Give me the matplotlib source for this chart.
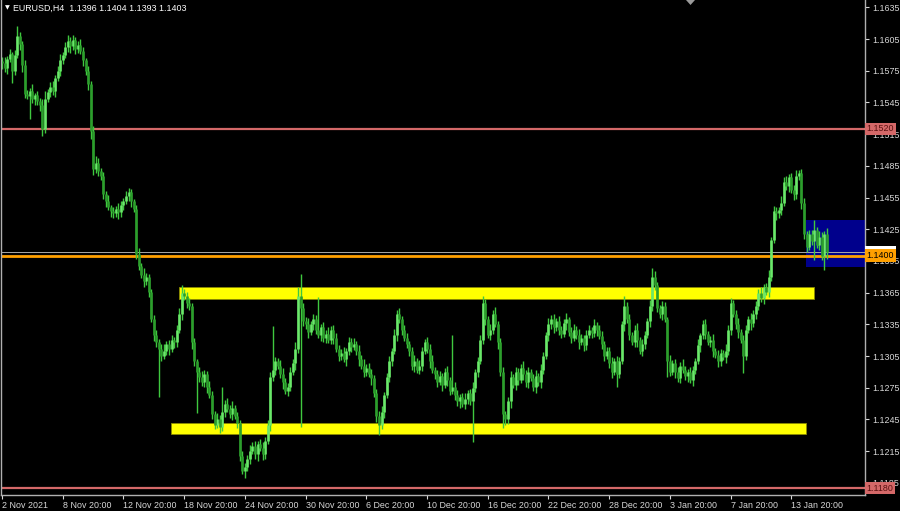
import numpy as np
import matplotlib
matplotlib.use("Agg")
import matplotlib.pyplot as plt
from matplotlib.patches import Rectangle, Polygon
from matplotlib.transforms import blended_transform_factory

plt.rcParams["font.family"] = ["Liberation Sans", "DejaVu Sans"]

# EURUSD H4 closes, in pips above 1.1000 (1582 -> 1.1582)
closes = [
    1582, 1578, 1586, 1591, 1575, 1590, 1608, 1600, 1580, 1553, 1551, 1556, 1548, 1552, 1546, 1543, 1520, 1548, 1555, 1560,
    1556, 1568, 1575, 1585, 1590, 1597, 1603, 1598, 1604, 1596, 1599, 1594, 1585, 1575, 1562, 1518, 1482, 1488, 1480, 1475,
    1458, 1452, 1446, 1442, 1440, 1444, 1441, 1448, 1452, 1456, 1460, 1452, 1444, 1402, 1390, 1382, 1376, 1380, 1366, 1340,
    1325, 1318, 1312, 1305, 1310, 1316, 1312, 1320, 1318, 1330, 1345, 1365, 1362, 1355, 1352, 1318, 1300, 1290, 1285, 1280,
    1288, 1276, 1268, 1250, 1240, 1245, 1238, 1252, 1260, 1255, 1250, 1256, 1248, 1242, 1210, 1196, 1200, 1208, 1215, 1220,
    1212, 1222, 1218, 1212, 1225, 1240, 1285, 1292, 1300, 1296, 1288, 1280, 1272, 1276, 1290, 1298, 1312, 1362, 1350, 1338,
    1335, 1328, 1335, 1340, 1330, 1325, 1332, 1322, 1326, 1320, 1330, 1322, 1312, 1305, 1308, 1302, 1310, 1318, 1314, 1316,
    1310, 1302, 1296, 1290, 1294, 1288, 1284, 1270, 1248, 1240, 1252, 1268, 1285, 1300, 1310, 1325, 1345, 1340, 1330, 1322,
    1316, 1310, 1296, 1300, 1292, 1296, 1310, 1318, 1312, 1300, 1292, 1288, 1280, 1286, 1278, 1290, 1282, 1272, 1276, 1268,
    1262, 1266, 1260, 1264, 1270, 1262, 1275, 1290, 1300, 1320, 1355, 1340, 1325, 1330, 1345, 1335, 1318, 1290, 1250, 1245,
    1262, 1285, 1278, 1290, 1282, 1294, 1288, 1280, 1290, 1284, 1276, 1286, 1280, 1292, 1305, 1325, 1335, 1340, 1332, 1338,
    1330, 1326, 1336, 1340, 1328, 1322, 1330, 1325, 1318, 1322, 1315, 1325, 1330, 1327, 1334, 1330, 1324, 1316, 1305, 1310,
    1298, 1290, 1300, 1288, 1300, 1335, 1352, 1340, 1325, 1318, 1330, 1320, 1310, 1316, 1325, 1338, 1352, 1380, 1372, 1350,
    1345, 1352, 1340, 1300, 1290, 1298, 1290, 1284, 1296, 1292, 1286, 1290, 1282, 1292, 1300, 1315, 1325, 1335, 1326, 1318,
    1320, 1310, 1306, 1300, 1308, 1304, 1310, 1330, 1355, 1345, 1335, 1328, 1320, 1305, 1330, 1340, 1336, 1345, 1352, 1365,
    1360, 1370, 1366, 1380, 1415, 1442, 1440, 1443, 1450, 1470, 1466, 1474, 1462, 1458, 1475, 1478, 1450, 1420, 1408, 1420,
    1414, 1424, 1410, 1418, 1400, 1420, 1403,
]
first_open = 1584

# wick lengths in pips above the body and below the body
wick_up = [
    4, 6, 3, 5, 2, 5, 9, 4, 3, 5, 4, 3, 6, 2, 4, 3, 5, 8, 3, 4,
    5, 3, 4, 6, 3, 5, 6, 4, 5, 3, 4, 6, 3, 2, 4, 3, 5, 6, 4, 3,
    4, 3, 5, 2, 4, 3, 6, 4, 3, 5, 4, 3, 2, 4, 5, 3, 6, 4, 3, 2,
    4, 5, 3, 4, 6, 3, 4, 5, 3, 4, 5, 7, 3, 4, 5, 3, 4, 2, 5, 6,
    4, 3, 5, 4, 3, 6, 4, 24, 3, 5, 4, 6, 3, 4, 2, 5, 4, 3, 6, 4,
    5, 3, 4, 6, 3, 4, 5, 41, 4, 3, 5, 6, 4, 3, 5, 4, 6, 8, 21, 5,
    4, 6, 3, 5, 4, 31, 3, 5, 4, 6, 3, 4, 5, 3, 4, 6, 3, 5, 4, 6,
    3, 5, 4, 6, 3, 4, 5, 3, 4, 5, 6, 3, 4, 5, 3, 6, 4, 5, 3, 4,
    5, 3, 4, 6, 3, 5, 4, 3, 5, 4, 6, 3, 4, 5, 3, 4, 6, 3, 49, 4,
    5, 3, 4, 6, 3, 4, 5, 3, 4, 5, 7, 4, 3, 5, 4, 6, 3, 4, 5, 3,
    4, 6, 3, 5, 4, 3, 6, 4, 5, 3, 4, 6, 3, 5, 4, 3, 6, 4, 5, 3,
    5, 3, 4, 6, 2, 4, 5, 3, 6, 4, 3, 5, 4, 2, 6, 3, 4, 5, 3, 4,
    4, 6, 3, 5, 4, 3, 10, 4, 5, 3, 4, 6, 3, 5, 4, 3, 6, 8, 5, 3,
    3, 5, 4, 2, 6, 3, 4, 5, 3, 6, 4, 3, 5, 4, 3, 6, 2, 4, 5, 3,
    4, 6, 3, 5, 4, 3, 6, 4, 5, 3, 4, 6, 3, 5, 4, 3, 6, 4, 5, 3,
    5, 3, 4, 6, 3, 5, 4, 3, 6, 4, 5, 3, 4, 5, 6, 3, 4, 5, 3, 4,
    4, 10, 3, 5, 4, 3, 6,
]
wick_dn = [
    5, 4, 6, 3, 12, 4, 3, 5, 6, 4, 3, 22, 4, 5, 3, 6, 7, 4, 3, 5,
    4, 6, 3, 5, 4, 3, 4, 6, 3, 5, 4, 3, 6, 4, 5, 8, 6, 4, 5, 3,
    4, 6, 3, 5, 4, 3, 6, 4, 5, 3, 4, 6, 3, 5, 4, 3, 6, 4, 5, 3,
    6, 4, 46, 5, 3, 4, 6, 3, 5, 4, 3, 6, 4, 5, 3, 6, 4, 39, 5, 3,
    4, 6, 3, 5, 4, 3, 6, 4, 5, 3, 4, 6, 3, 5, 4, 3, 6, 4, 5, 3,
    4, 6, 3, 5, 4, 3, 6, 4, 5, 3, 4, 6, 3, 5, 4, 3, 6, 4, 112, 5,
    4, 6, 3, 5, 4, 3, 6, 4, 5, 3, 4, 6, 3, 5, 4, 3, 6, 4, 5, 3,
    4, 6, 3, 5, 4, 3, 6, 4, 5, 10, 4, 6, 3, 5, 4, 3, 6, 4, 5, 3,
    3, 5, 4, 6, 3, 4, 5, 3, 4, 6, 3, 5, 4, 2, 6, 3, 5, 4, 3, 5,
    4, 6, 3, 5, 4, 3, 38, 4, 5, 3, 4, 6, 3, 5, 4, 3, 6, 4, 13, 5,
    4, 6, 3, 5, 4, 3, 6, 4, 5, 3, 4, 6, 3, 5, 4, 3, 6, 4, 5, 3,
    5, 4, 3, 6, 4, 5, 3, 4, 6, 3, 5, 4, 3, 5, 4, 6, 3, 4, 5, 3,
    4, 6, 3, 12, 4, 3, 6, 4, 5, 3, 4, 6, 3, 5, 4, 3, 6, 4, 5, 3,
    4, 6, 3, 15, 4, 3, 6, 4, 5, 3, 4, 6, 3, 5, 4, 3, 6, 4, 5, 3,
    4, 6, 3, 5, 4, 3, 6, 4, 5, 3, 4, 6, 3, 16, 4, 3, 6, 4, 5, 3,
    4, 6, 3, 5, 4, 3, 6, 4, 5, 3, 4, 6, 3, 5, 4, 3, 6, 4, 5, 3,
    4, 18, 3, 5, 4, 14, 6,
]

tick_labels = ["2 Nov 2021", "8 Nov 20:00", "12 Nov 20:00", "18 Nov 20:00", "24 Nov 20:00",
               "30 Nov 20:00", "6 Dec 20:00", "10 Dec 20:00", "16 Dec 20:00", "22 Dec 20:00",
               "28 Dec 20:00", "3 Jan 20:00", "7 Jan 20:00", "13 Jan 20:00"]
bars_per_tick = 24

level_high = 1.1520
level_low = 1.1180
level_mid = 1.1400
bid = 1.1403
upper_zone = (70, 321, 1.1359, 1.1370)
lower_zone = (66.8, 317.8, 1.12315, 1.12416)
blue_box = (317.8, 345, 1.13894, 1.14337)

BG = "#000000"
FG = "#d8d8d8"
FS = 6.4

c = 1 + np.array(closes) / 10000
o = np.concatenate([[1 + first_open / 10000], c[:-1]])
hi = np.maximum(o, c) + np.array(wick_up) / 10000
lo = np.minimum(o, c) - np.array(wick_dn) / 10000
x = np.arange(len(c))

fig = plt.figure(figsize=(9, 5.11), dpi=100)
fig.patch.set_facecolor(BG)
ax = fig.add_axes([1 / 900, 16 / 511, 864 / 900, 495 / 511])
ax.set_facecolor(BG)
ax.set_xlim(-0.4, 341.1)
ax.set_ylim(1.117347, 1.164191)

# zones behind the candles
ax.add_patch(Rectangle((blue_box[0], blue_box[2]), blue_box[1] - blue_box[0], blue_box[3] - blue_box[2],
                       facecolor="#00008c", edgecolor="none", zorder=1))
for x0, x1, y0, y1 in (upper_zone, lower_zone):
    ax.add_patch(Rectangle((x0, y0), x1 - x0, y1 - y0, facecolor="#ffff00",
                           edgecolor="#8a8a00", linewidth=0.6, zorder=1.2))

ax.axhline(level_high, color="#d46868", lw=1.6, zorder=1.5)
ax.axhline(level_low, color="#d46868", lw=1.6, zorder=1.5)
ax.axhline(bid, color="#a8a8a8", lw=0.7, zorder=1.5)
ax.axhline(level_mid, color="#ffa000", lw=2.0, zorder=1.6)

# candles
bull = c >= o
ax.vlines(x, lo, hi, color="#3fc83f", lw=1.0, zorder=2)
ax.vlines(x[bull], o[bull], c[bull], color="#6ae86a", lw=1.9, zorder=2.1)
ax.vlines(x[~bull], c[~bull], o[~bull], color="#2c9e2c", lw=1.9, zorder=2.1)

# axes styling
for side in ("left", "right", "bottom"):
    ax.spines[side].set_color("#b0b0b0")
    ax.spines[side].set_linewidth(1.0)
ax.spines["top"].set_visible(False)

yt = np.round(np.arange(1.1185, 1.1636, 0.0030), 4)
ax.yaxis.tick_right()
ax.set_yticks(yt)
ax.set_yticklabels([f"{v:.4f}" for v in yt])
ax.tick_params(axis="y", colors=FG, labelsize=FS, length=3, width=0.8, pad=2, labelcolor=FG)

xt = np.arange(len(tick_labels)) * bars_per_tick
ax.set_xticks(xt)
ax.set_xticklabels(tick_labels)
ax.tick_params(axis="x", colors=FG, labelsize=FS, length=3, width=0.8, pad=1.5, labelcolor=FG)
for lbl in ax.get_xticklabels():
    lbl.set_ha("left")

# price labels on the right scale
tr = blended_transform_factory(ax.transAxes, ax.transData)
def price_tag(val, fc, tc, z):
    ax.text(1.0 + 1.5 / 864, val, f"{val:.4f}", transform=tr, fontsize=FS, color=tc,
            ha="left", va="center", zorder=z, clip_on=False,
            bbox=dict(boxstyle="square,pad=0.2", facecolor=fc, edgecolor="none"))

price_tag(level_high, "#d46868", "#5a1010", 5)
price_tag(level_low, "#d46868", "#5a1010", 5)
price_tag(bid, "#ffffff", "#000000", 5)
price_tag(level_mid, "#ffa000", "#000000", 6)

# header and chart shift marker
fig.text(5 / 900, 1 - 8 / 511, "\u25bc", fontsize=4.5, color="#ffffff", va="center",
         family="DejaVu Sans")
fig.text(13 / 900, 1 - 8 / 511, "EURUSD,H4  1.1396 1.1404 1.1393 1.1403",
         fontsize=FS, color="#ffffff", va="center")
fig.patches.append(Polygon([[686 / 900, 1.0], [695 / 900, 1.0], [690.5 / 900, 1 - 5 / 511]],
                           closed=True, transform=fig.transFigure, facecolor="#9a9a9a",
                           edgecolor="none"))

fig.savefig("out.png", dpi=100, facecolor=BG)
